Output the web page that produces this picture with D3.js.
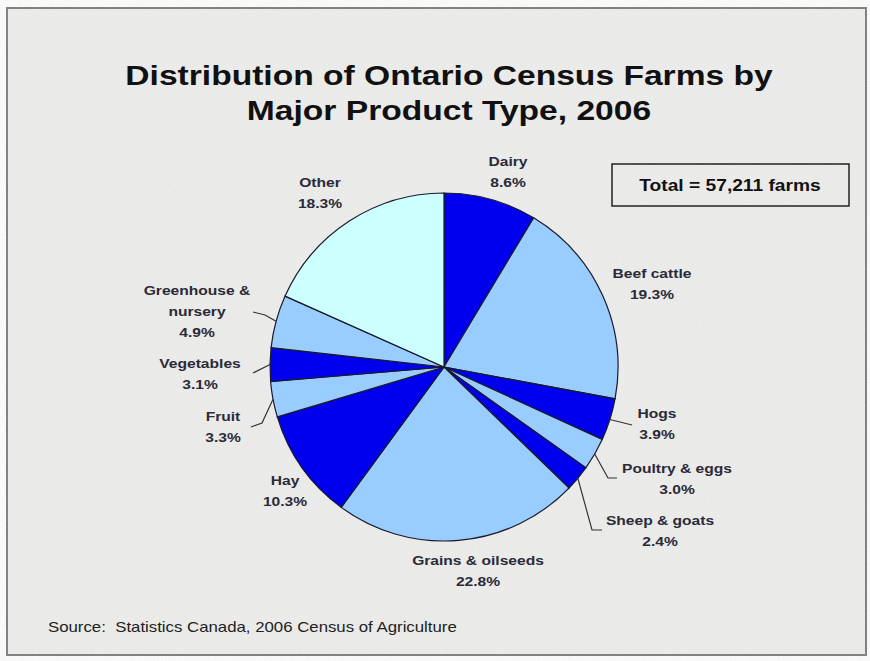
<!DOCTYPE html>
<html>
<head>
<meta charset="utf-8">
<script src="https://cdn.jsdelivr.net/npm/d3@7"></script>
<style>
  body { margin: 0; background: #fff; }
  text { font-family: Arial, "Liberation Sans", sans-serif; }
</style>
</head>
<body>
<script>
// Farm types, clockwise from 12 o'clock, and their shares (%)
var categories = ["Dairy", "Beef cattle", "Hogs", "Poultry & eggs", "Sheep & goats",
    "Grains & oilseeds", "Hay", "Fruit", "Vegetables", "Greenhouse & nursery", "Other"];
var shares = [8.6, 19.3, 3.9, 3.0, 2.4, 22.8, 10.3, 3.3, 3.1, 4.9, 18.3];
var total_farms = "57,211";

var svg_width = 870;
var svg_height = 661;

// The original's lettering is a little wider than plain Arial.
var stretch = 1.2;

var svg = d3.select("body")
    .append("svg")
    .attr("width", svg_width)
    .attr("height", svg_height);

// Paper-like grey background with a bit of grain
var defs = svg.append("defs");
var grain = defs.append("filter").attr("id", "grain");
grain.append("feTurbulence")
    .attr("type", "fractalNoise")
    .attr("baseFrequency", 0.9)
    .attr("numOctaves", 2)
    .attr("result", "noise");
grain.append("feColorMatrix")
    .attr("type", "matrix")
    .attr("values", "0 0 0 0 0.55  0 0 0 0 0.55  0 0 0 0 0.55  0 0 0 0.22 0");

svg.append("rect")
    .attr("x", 7).attr("y", 8)
    .attr("width", 859).attr("height", 647)
    .attr("fill", "#efefee")
    .attr("stroke", "#7a7a7a")
    .attr("stroke-width", 2);
svg.append("rect")
    .attr("x", 8).attr("y", 9)
    .attr("width", 857).attr("height", 645)
    .attr("filter", "url(#grain)");

// Helper: a block of text lines, widened horizontally around its anchor
function wideText(x, y, rows, opts) {
    var t = svg.append("text")
        .attr("transform", "translate(" + x + "," + y + ") scale(" + stretch + ",1)")
        .attr("text-anchor", opts.anchor || "middle")
        .attr("font-size", opts.size + "px")
        .attr("font-weight", opts.weight || "normal")
        .attr("fill", opts.fill || "#222");
    rows.forEach(function (r, k) {
        t.append("tspan")
            .attr("x", 0)
            .attr("y", k * (opts.lineHeight || 0))
            .text(r);
    });
    return t;
}

// Title
wideText(449, 85, ["Distribution of Ontario Census Farms by", "Major Product Type, 2006"],
    { size: 28, weight: "bold", fill: "#111", lineHeight: 35 });

// Total box
svg.append("rect")
    .attr("x", 612).attr("y", 164)
    .attr("width", 237).attr("height", 42)
    .attr("fill", "none")
    .attr("stroke", "#222")
    .attr("stroke-width", 1.5);
wideText(730, 191, ["Total = " + total_farms + " farms"],
    { size: 16, weight: "bold", fill: "#111" });

// The pie itself
var cx = 444, cy = 367, radius = 174;
var dark = "#0000ee", light = "#99ccff", other = "#ccffff";
var colour = function (d, i) {
    if (i === categories.length - 1) return other;
    return i % 2 === 0 ? dark : light;
};

var pie = d3.pie().sort(null).value(function (d) { return d; });
var arcs = pie(shares);
var arc = d3.arc().innerRadius(0).outerRadius(radius);

var g = svg.append("g").attr("transform", "translate(" + cx + "," + cy + ")");
g.selectAll("path")
    .data(arcs)
    .enter()
    .append("path")
    .attr("d", arc)
    .attr("fill", function (d, i) { return colour(d, i); })
    .attr("stroke", "#1a1a2a")
    .attr("stroke-width", 1.2);

// Label placement (page coordinates) and optional leader line elbows
var label_layout = [
    { x: 508, y: 166, lines: ["Dairy"] },
    { x: 652, y: 278, lines: ["Beef cattle"] },
    { x: 657, y: 418, lines: ["Hogs"], leader: [[632, 425]] },
    { x: 677, y: 473, lines: ["Poultry & eggs"], leader: [[608, 478], [617, 478]] },
    { x: 660, y: 525, lines: ["Sheep & goats"], leader: [[592, 530], [602, 530]] },
    { x: 478, y: 565, lines: ["Grains & oilseeds"] },
    { x: 285, y: 485, lines: ["Hay"] },
    { x: 223, y: 421, lines: ["Fruit"], leader: [[262, 423], [251, 427]] },
    { x: 200, y: 368, lines: ["Vegetables"], leader: [[253, 373]] },
    { x: 197, y: 295, lines: ["Greenhouse &", "nursery"], leader: [[265, 315], [253, 312]] },
    { x: 320, y: 187, lines: ["Other"] }
];

var leader_line = d3.line();
arcs.forEach(function (a, i) {
    var lay = label_layout[i];
    if (lay.leader) {
        var mid = (a.startAngle + a.endAngle) / 2;
        var start = [cx + radius * Math.sin(mid), cy - radius * Math.cos(mid)];
        svg.append("path")
            .attr("d", leader_line([start].concat(lay.leader)))
            .attr("fill", "none")
            .attr("stroke", "#333")
            .attr("stroke-width", 1.2);
    }
    var rows = lay.lines.concat([d3.format(".1f")(shares[i]) + "%"]);
    wideText(lay.x, lay.y, rows,
        { size: 13, weight: "bold", fill: "#2a2a38", lineHeight: 21 });
});

// Source note
wideText(48, 632, ["Source:\u00a0\u00a0Statistics Canada, 2006 Census of Agriculture"],
    { size: 14, anchor: "start", fill: "#222" });
</script>
</body>
</html>
